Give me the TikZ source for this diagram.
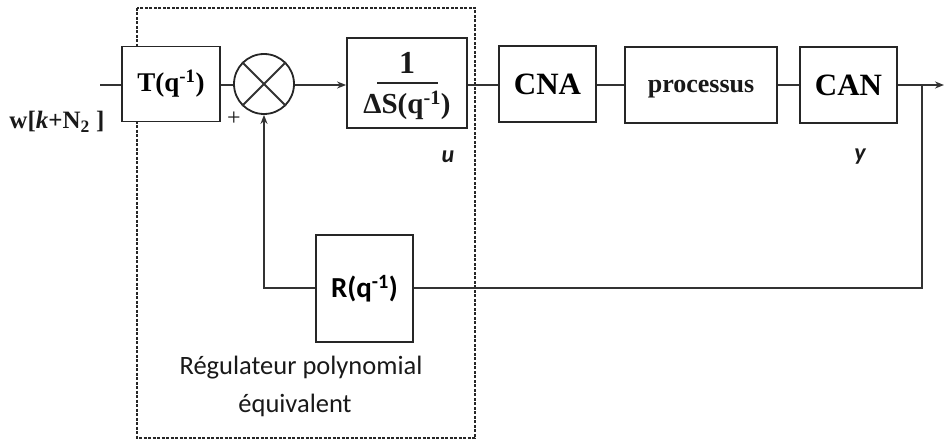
\documentclass[tikz,border=0pt]{standalone}
\usepackage{fontspec}
\setmainfont{Liberation Serif}
\newfontfamily\calfont{Carlito}
\usetikzlibrary{arrows.meta}
\begin{document}
\begin{tikzpicture}[x=1pt,y=-1pt,
  blk/.style={draw=black!85, fill=white, line width=1.8pt, rectangle, inner sep=0pt},
  conn/.style={draw=black!80, line width=1.8pt},
  arr/.style={conn, -{Stealth[length=9pt,width=7pt]}},
  txt/.style={inner sep=0pt, text=black!90}
]
\useasboundingbox (0,0) rectangle (944,441);
% dashed frame
\draw[black!85, line width=1.5pt, dash pattern=on 3pt off 1.5pt] (137,8) rectangle (475,438);

% blocks
\node[blk, minimum width=98pt, minimum height=75pt, font=\fontsize{27}{30}\selectfont\bfseries] (T) at (171,84) {T(q\textsuperscript{-1})};
\node[draw=black!85, fill=white, line width=1.8pt, circle, minimum size=60pt, inner sep=0pt] (sum) at (264,84) {};
\draw[conn] (sum.north west) -- (sum.south east);
\draw[conn] (sum.north east) -- (sum.south west);
\node[blk, minimum width=120pt, minimum height=90pt] (S) at (407,83) {};
\node[txt, font=\fontsize{32}{34}\selectfont\bfseries] (S1) at (407,63) {1};
\node[txt, font=\fontsize{29}{32}\selectfont\bfseries] (S2) at (407,105) {ΔS(q\textsuperscript{-1})};
\draw[black!85, line width=1.6pt] (377,83) -- (438,83);
\node[blk, minimum width=97pt, minimum height=76pt, font=\fontsize{31}{34}\selectfont\bfseries] (CNA) at (547.5,84) {CNA};
\node[blk, minimum width=152pt, minimum height=76pt] (P) at (701,85) {};
\node[txt, anchor=base, font=\fontsize{26}{30}\selectfont\bfseries] (Pt) at (701,93) {processus};
\node[blk, minimum width=97pt, minimum height=76pt, font=\fontsize{31}{34}\selectfont\bfseries] (CAN) at (848.5,85) {CAN};
\node[blk, minimum width=97pt, minimum height=107pt, font=\calfont\fontsize{29}{32}\selectfont\bfseries] (R) at (364.5,288.5) {R(q\textsuperscript{-1})};

% coordinates
\coordinate (in) at (100,85);
\coordinate (out) at (944,85);
\coordinate (br) at (922,85);
\coordinate (brd) at (922,288);
\coordinate (fbl) at (264,288);

% connectors
\draw[conn] (in) -- (T.west |- in);
\draw[conn] (T.east |- in) -- (sum.west |- in);
\draw[arr] (sum.east |- in) -- (S.west |- in);
\draw[conn] (S.east |- in) -- (CNA.west |- in);
\draw[conn] (CNA.east |- in) -- (P.west |- in);
\draw[conn] (P.east) -- (CAN.west);
\draw[arr] (CAN.east) -- (out);
\draw[conn] (br) -- (brd) -- (R.east |- brd);
\draw[arr] (R.west |- fbl) -- (fbl) -- (sum.south);

% labels
\node[txt, font=\fontsize{25}{28}\selectfont\bfseries] (w) at (57,122) {w[\textit{k}+N\textsubscript{2} ]};
\node[txt, font=\fontsize{24}{26}\selectfont] (plus) at (234,119) {+};
\node[txt, font=\calfont\fontsize{24}{26}\selectfont\bfseries\itshape] (u) at (448,157) {u};
\node[txt, font=\calfont\fontsize{24}{26}\selectfont\bfseries\itshape] (y) at (860,157) {y};
\node[txt, font=\calfont\fontsize{26.5}{29}\selectfont] (reg1) at (301,368) {Régulateur polynomial};
\node[txt, font=\calfont\fontsize{26.5}{29}\selectfont] (reg2) at (295,405) {équivalent};
\end{tikzpicture}
\end{document}
